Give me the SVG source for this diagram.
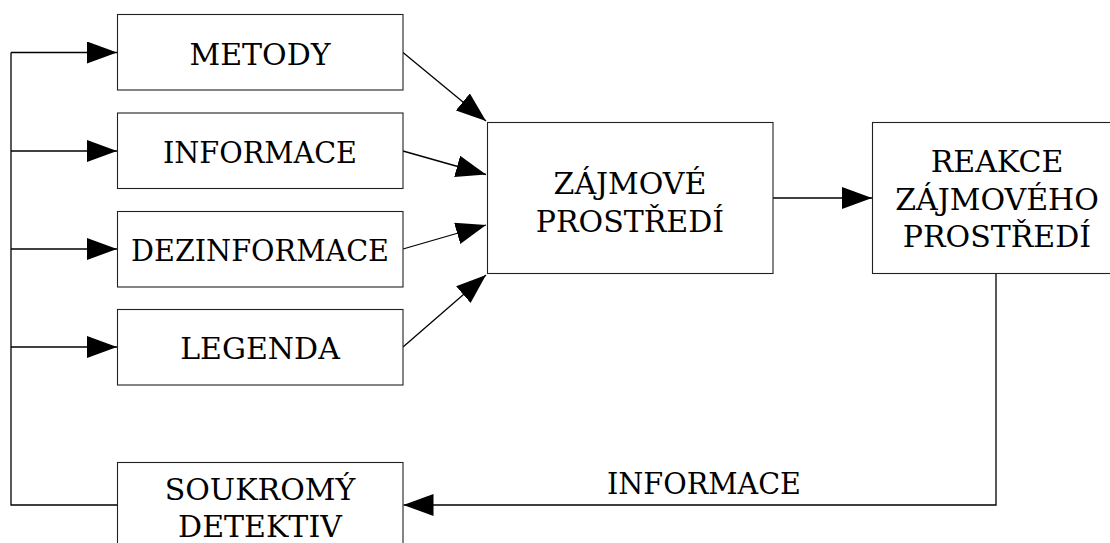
<svg xmlns="http://www.w3.org/2000/svg" width="1110" height="543" viewBox="0 0 1110 543">
<style>
.box{fill:#fff;stroke:#222;stroke-width:1.1}
.t{font-family:'DejaVu Serif',serif;font-size:30px;fill:#000;text-anchor:middle}
.ln{fill:none;stroke:#000;stroke-width:1.3}
</style>
<defs>
<marker id="ah" viewBox="0 0 30 22" refX="30" refY="11" markerWidth="30" markerHeight="22" markerUnits="userSpaceOnUse" orient="auto">
<path d="M0,0 L30,11 L0,22 Z" fill="#000"/>
</marker>
</defs>
<rect width="1110" height="543" fill="#fff"/>
<g id="connectors">
<polyline class="ln" points="117,505 11,505 11,52.5"/>
<line class="ln" x1="11" y1="52.5" x2="117" y2="52.5" marker-end="url(#ah)"/>
<line class="ln" x1="11" y1="151" x2="117" y2="151" marker-end="url(#ah)"/>
<line class="ln" x1="11" y1="249" x2="117" y2="249" marker-end="url(#ah)"/>
<line class="ln" x1="11" y1="347" x2="117" y2="347" marker-end="url(#ah)"/>
<line class="ln" x1="403" y1="52.5" x2="486" y2="121" marker-end="url(#ah)"/>
<line class="ln" x1="403" y1="151" x2="486" y2="174.5" marker-end="url(#ah)"/>
<line class="ln" x1="403" y1="249" x2="486" y2="225" marker-end="url(#ah)"/>
<line class="ln" x1="403" y1="347" x2="486" y2="275" marker-end="url(#ah)"/>
<line class="ln" x1="773" y1="198" x2="872" y2="198" marker-end="url(#ah)"/>
<polyline class="ln" points="996,273 996,505 403.5,505" marker-end="url(#ah)"/>
<text class="t" x="704" y="494" textLength="194" lengthAdjust="spacingAndGlyphs">INFORMACE</text>
</g>
<g id="metody">
<rect class="box" x="117.5" y="14.5" width="285.5" height="75.5"/>
<text class="t" x="260" y="64.5">METODY</text>
</g>
<g id="informace">
<rect class="box" x="117.5" y="113" width="285.5" height="75.5"/>
<text class="t" x="260" y="163" textLength="194" lengthAdjust="spacingAndGlyphs">INFORMACE</text>
</g>
<g id="dezinformace">
<rect class="box" x="117.5" y="211.5" width="285.5" height="75.5"/>
<text class="t" x="260" y="261" textLength="258" lengthAdjust="spacingAndGlyphs">DEZINFORMACE</text>
</g>
<g id="legenda">
<rect class="box" x="117.5" y="309.5" width="285.5" height="75.5"/>
<text class="t" x="260" y="359">LEGENDA</text>
</g>
<g id="soukromy">
<rect class="box" x="117.5" y="462.5" width="285.5" height="100"/>
<text class="t" x="260" y="500">SOUKROMÝ</text>
<text class="t" x="260" y="537">DETEKTIV</text>
</g>
<g id="zajmove">
<rect class="box" x="487.5" y="122.5" width="285.5" height="151"/>
<text class="t" x="630" y="193.5">ZÁJMOVÉ</text>
<text class="t" x="630" y="231.5">PROSTŘEDÍ</text>
</g>
<g id="reakce">
<rect class="box" x="872.5" y="122.5" width="249" height="151"/>
<text class="t" x="997" y="171.5">REAKCE</text>
<text class="t" x="997" y="209.5">ZÁJMOVÉHO</text>
<text class="t" x="997" y="247">PROSTŘEDÍ</text>
</g>
</svg>
